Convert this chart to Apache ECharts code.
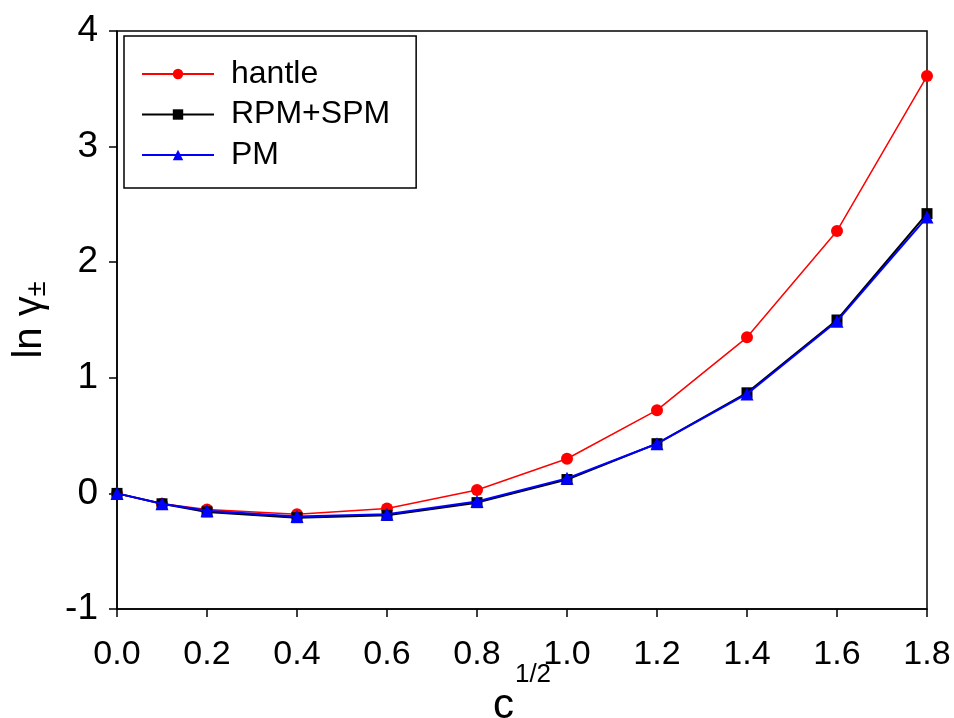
<!DOCTYPE html>
<html>
<head>
<meta charset="utf-8">
<script src="https://cdn.jsdelivr.net/npm/echarts@6/dist/echarts.min.js"></script>
<style>
  html, body { margin: 0; padding: 0; background: #fff; }
  #chart { width: 954px; height: 718px; }
</style>
</head>
<body>
<div id="chart"></div>
<script>
// Square root of concentration (x values)
const sqrtC = [0, 0.1, 0.2, 0.4, 0.6, 0.8, 1.0, 1.2, 1.4, 1.6, 1.8];

// ln γ± for each model
const hantle = [0, -0.09, -0.14, -0.18, -0.13, 0.03, 0.30, 0.72, 1.35, 2.27, 3.61];
const rpmSpm = [0, -0.09, -0.16, -0.21, -0.19, -0.08, 0.12, 0.43, 0.87, 1.50, 2.42];
const pm     = [0, -0.09, -0.15, -0.20, -0.18, -0.07, 0.13, 0.43, 0.86, 1.49, 2.39];

const seriesNames = ['hantle', 'RPM+SPM', 'PM'];

const FONT = 'Liberation Sans, Arial, Helvetica, sans-serif';

function pairs(xs, ys) {
  return xs.map((x, i) => [x, ys[i]]);
}

const chart = echarts.init(document.getElementById('chart'), null, { renderer: 'canvas' });

chart.setOption({
  backgroundColor: '#ffffff',
  animation: false,
  textStyle: { fontFamily: FONT, color: '#000' },
  grid: {
    left: 117, right: 27, top: 31, bottom: 109,
    outerBoundsMode: 'none', containLabel: false,
    show: true, borderColor: '#000', borderWidth: 1.5, backgroundColor: 'transparent'
  },
  legend: {
    data: seriesNames,
    orient: 'vertical',
    left: 124, top: 36,
    padding: [22, 26, 17, 17],
    itemWidth: 72, itemHeight: 13, itemGap: 8.5,
    borderColor: '#000', borderWidth: 1.5,
    textStyle: { fontFamily: FONT, fontSize: 32, color: '#000', padding: [0, 0, 0, 12] }
  },
  xAxis: {
    type: 'value', min: 0, max: 1.8, interval: 0.2,
    name: '{c|c}{s|1/2}',
    nameLocation: 'middle', nameGap: 53, nameMoveOverlap: false,
    nameTextStyle: {
      rich: {
        c: { fontFamily: FONT, fontSize: 42, color: '#000', lineHeight: 65, verticalAlign: 'bottom' },
        s: { fontFamily: FONT, fontSize: 26, color: '#000', lineHeight: 16, verticalAlign: 'top',
             padding: [0, 0, 0, 1] }
      }
    },
    axisLine: { show: true, onZero: false, lineStyle: { color: '#000', width: 1.5 } },
    axisTick: { show: true, inside: false, length: 8, lineStyle: { color: '#000', width: 1.5 } },
    axisLabel: { fontFamily: FONT, fontSize: 34, color: '#000', margin: 29,
                 formatter: v => v.toFixed(1) },
    splitLine: { show: false }
  },
  yAxis: {
    type: 'value', min: -1, max: 4, interval: 1,
    name: '{t|ln γ}{s|±}',
    nameLocation: 'middle', nameGap: 66, nameRotate: 90, nameMoveOverlap: false,
    nameTextStyle: {
      rich: {
        t: { fontFamily: FONT, fontSize: 40, color: '#000', lineHeight: 42 },
        s: { fontFamily: FONT, fontSize: 27, color: '#000', verticalAlign: 'bottom', lineHeight: 6 }
      }
    },
    axisLine: { show: true, onZero: false, lineStyle: { color: '#000', width: 1.5 } },
    axisTick: { show: true, inside: false, length: 8, lineStyle: { color: '#000', width: 1.5 } },
    axisLabel: { fontFamily: FONT, fontSize: 37, color: '#000', margin: 19 },
    splitLine: { show: false }
  },
  series: [
    {
      name: seriesNames[0], type: 'line', data: pairs(sqrtC, hantle),
      symbol: 'circle', symbolSize: 12,
      lineStyle: { color: '#ff0000', width: 1.5 },
      itemStyle: { color: '#ff0000' }, z: 2
    },
    {
      name: seriesNames[1], type: 'line', data: pairs(sqrtC, rpmSpm),
      symbol: 'rect', symbolSize: 11,
      lineStyle: { color: '#000000', width: 2 },
      itemStyle: { color: '#000000' }, z: 3
    },
    {
      name: seriesNames[2], type: 'line', data: pairs(sqrtC, pm),
      symbol: 'triangle', symbolSize: 13,
      lineStyle: { color: '#0000ff', width: 2 },
      itemStyle: { color: '#0000ff' }, z: 4
    }
  ]
});
</script>
</body>
</html>
